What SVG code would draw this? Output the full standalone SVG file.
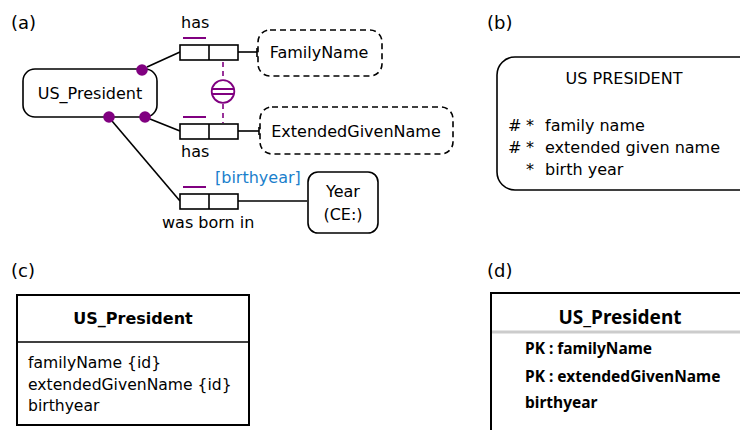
<svg xmlns="http://www.w3.org/2000/svg" width="740" height="430" viewBox="0 0 740 430">
<style>
text{font-family:"DejaVu Sans","Liberation Sans",sans-serif;fill:#000}
.t16{font-size:16px}
.lbl{font-size:18px}
.ent{fill:#fff;stroke:#000;stroke-width:1.6}
.val{fill:#fff;stroke:#000;stroke-width:1.6;stroke-dasharray:6,4}
.role{fill:#fff;stroke:#000;stroke-width:1.6}
.ln{stroke:#000;stroke-width:1.6;fill:none}
.pur{stroke:#800080;stroke-width:2;fill:none}
.dot{fill:#800080}
.box{fill:#fff;stroke:#000;stroke-width:2}
.d{font-family:"Noto Sans","Open Sans",sans-serif;font-weight:bold}
</style>

<!-- panel labels -->
<text class="lbl" x="11" y="29">(a)</text>
<text class="lbl" x="487" y="29">(b)</text>
<text class="lbl" x="11" y="277">(c)</text>
<text class="lbl" x="487" y="277">(d)</text>

<!-- (a) connectors -->
<g id="connectors">
  <line class="ln" x1="147" y1="67" x2="180" y2="52"/>
  <line class="ln" x1="150" y1="119" x2="180" y2="131"/>
  <line class="ln" x1="112" y1="121" x2="180" y2="201"/>
  <line class="ln" x1="238" y1="52" x2="257" y2="52"/>
  <line class="ln" x1="257" y1="48" x2="257" y2="57"/>
  <line class="ln" x1="238" y1="131" x2="259" y2="131"/>
  <line class="ln" x1="259" y1="127" x2="259" y2="135"/>
  <line class="ln" x1="238" y1="201" x2="307" y2="201"/>
  <line x1="223" y1="61" x2="223" y2="80" stroke="#800080" stroke-width="1.6" stroke-dasharray="5,4" stroke-dashoffset="-1"/>
  <line x1="223" y1="103" x2="223" y2="123" stroke="#800080" stroke-width="1.6" stroke-dasharray="5,4" stroke-dashoffset="-1"/>
</g>

<g id="us_president_a">
  <rect class="ent" x="23" y="69" width="134" height="48" rx="12"/>
  <text class="t16" x="90" y="99" text-anchor="middle">US_President</text>
  <circle class="dot" cx="142" cy="70" r="5.8"/>
  <circle class="dot" cx="109" cy="117" r="5.8"/>
  <circle class="dot" cx="145" cy="117" r="5.8"/>
</g>

<g id="role_has1">
  <rect class="role" x="180" y="45" width="58" height="15"/>
  <line class="ln" x1="209" y1="45" x2="209" y2="60"/>
  <line class="pur" x1="183" y1="38" x2="206" y2="38"/>
  <text class="t16" x="181" y="28">has</text>
</g>

<g id="role_has2">
  <rect class="role" x="180" y="124" width="58" height="15"/>
  <line class="ln" x1="209" y1="124" x2="209" y2="139"/>
  <line class="pur" x1="183" y1="117" x2="206" y2="117"/>
  <text class="t16" x="181" y="157">has</text>
</g>

<g id="role_born">
  <rect class="role" x="180" y="194" width="58" height="15"/>
  <line class="ln" x1="209" y1="194" x2="209" y2="209"/>
  <line class="pur" x1="183" y1="187" x2="206" y2="187"/>
  <text class="t16" x="162" y="228">was born in</text>
  <text class="t16" x="215" y="183" style="fill:#1b7fcc">[birthyear]</text>
</g>

<g id="uniqueness">
  <circle cx="223" cy="91.5" r="11.3" fill="#fff" stroke="#800080" stroke-width="1.8"/>
  <line class="pur" x1="212" y1="89" x2="234" y2="89" stroke-width="1.6"/>
  <line class="pur" x1="212" y1="94" x2="234" y2="94" stroke-width="1.6"/>
</g>

<g id="familyname">
  <rect class="val" x="258" y="30" width="124" height="46" rx="12"/>
  <text class="t16" x="319" y="58" text-anchor="middle">FamilyName</text>
</g>

<g id="extendedgivenname">
  <rect class="val" x="260" y="107" width="193" height="47" rx="12"/>
  <text class="t16" x="356" y="137" text-anchor="middle">ExtendedGivenName</text>
</g>

<g id="year">
  <rect class="ent" x="308" y="172" width="70" height="61" rx="10"/>
  <text class="t16" x="343" y="197" text-anchor="middle">Year</text>
  <text class="t16" x="343" y="220" text-anchor="middle">(CE:)</text>
</g>

<!-- (b) -->
<g id="us_president_b">
  <rect x="497" y="57" width="262" height="133" rx="18" fill="#fff" stroke="#000" stroke-width="1.6"/>
  <text class="t16" x="624" y="84" text-anchor="middle">US PRESIDENT</text>
  <text class="t16" x="508" y="131">#</text><text class="t16" x="526" y="131">*</text><text class="t16" x="545" y="131">family name</text>
  <text class="t16" x="508" y="153">#</text><text class="t16" x="526" y="153">*</text><text class="t16" x="545" y="153">extended given name</text>
  <text class="t16" x="526" y="175">*</text><text class="t16" x="545" y="175">birth year</text>
</g>

<!-- (c) -->
<g id="us_president_c">
  <rect class="box" x="17" y="295" width="232" height="130"/>
  <line class="ln" x1="17" y1="342" x2="249" y2="342" stroke-width="2"/>
  <text x="133" y="324" text-anchor="middle" font-weight="bold" font-size="16">US_President</text>
  <text x="28" y="368" font-size="15.6">familyName {id}</text>
  <text x="28" y="390" font-size="15.6">extendedGivenName {id}</text>
  <text x="28" y="411" font-size="15.6">birthyear</text>
</g>

<!-- (d) -->
<g id="us_president_d">
  <rect x="491" y="293" width="270" height="150" fill="#fff" stroke="#000" stroke-width="2"/>
  <line x1="492" y1="332" x2="740" y2="332" stroke="#cccccc" stroke-width="3"/>
  <text class="d" x="620" y="324" text-anchor="middle" font-size="19">US_President</text>
  <text class="d" x="525" y="354" font-size="15.5">PK : familyName</text>
  <text class="d" x="525" y="382" font-size="15.5">PK : extendedGivenName</text>
  <text class="d" x="525" y="408" font-size="15.5">birthyear</text>
</g>
</svg>
